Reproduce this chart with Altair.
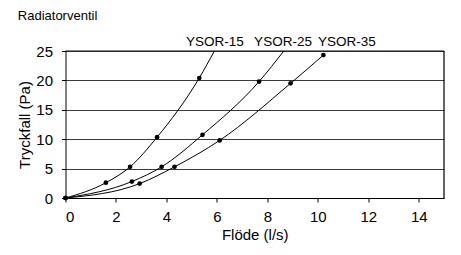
import altair as alt
import pandas as pd

series = ["YSOR-15", "YSOR-25", "YSOR-35"]

# measured points (markers)
pts_x = {
    "YSOR-15": [0.0, 1.6, 2.56, 3.63, 5.3],
    "YSOR-25": [0.0, 2.63, 3.81, 5.43, 7.67],
    "YSOR-35": [0.0, 2.94, 4.32, 6.11, 8.92, 10.22],
}
pts_y = {
    "YSOR-15": [0.0, 2.6, 5.3, 10.35, 20.4],
    "YSOR-25": [0.0, 2.8, 5.3, 10.75, 19.8],
    "YSOR-35": [0.0, 2.45, 5.3, 9.8, 19.5, 24.3],
}
# where the smoothed curve leaves the top of the plot
ext_x = {"YSOR-15": [5.9], "YSOR-25": [8.65], "YSOR-35": []}
ext_y = {"YSOR-15": [25.0], "YSOR-25": [25.0], "YSOR-35": []}

label_x = [5.92, 8.62, 11.15]
label_y = [25, 25, 25]

x_ticks = [0, 2, 4, 6, 8, 10, 12, 14]
y_ticks = [0, 5, 10, 15, 20, 25]
x_max = 15
y_max = 25

pt_rows, line_rows = [], []
for s in series:
    for i, (x, y) in enumerate(zip(pts_x[s], pts_y[s])):
        pt_rows.append({"s": s, "x": x, "y": y})
        line_rows.append({"s": s, "x": x, "y": y, "o": i})
    for j, (x, y) in enumerate(zip(ext_x[s], ext_y[s])):
        line_rows.append({"s": s, "x": x, "y": y, "o": 100 + j})
pts = pd.DataFrame(pt_rows)
lines = pd.DataFrame(line_rows)
labels = pd.DataFrame({"s": series, "x": label_x, "y": label_y})

FONT = "Liberation Sans"
xs = alt.Scale(domain=[0, x_max], nice=False, zero=True)
ys = alt.Scale(domain=[0, y_max], nice=False, zero=True)
xax = alt.Axis(values=x_ticks, title="Flöde (l/s)", grid=False, tickSize=4,
               labelFontSize=15, titleFontSize=15, labelPadding=7, titlePadding=3,
               labelFont=FONT, titleFont=FONT, titleFontWeight="normal",
               domainColor="#000", tickColor="#000", labelColor="#000", titleColor="#000")
yax = alt.Axis(values=y_ticks, title="Tryckfall (Pa)", grid=True, gridColor="#3a3a3a",
               tickSize=4, labelFontSize=15, titleFontSize=15, labelPadding=9,
               titlePadding=3, labelFont=FONT, titleFont=FONT, titleFontWeight="normal",
               labelOverlap=False,
               domainColor="#000", tickColor="#000", labelColor="#000", titleColor="#000")

X = alt.X("x:Q", scale=xs, axis=xax)
Y = alt.Y("y:Q", scale=ys, axis=yax)

line = alt.Chart(lines).mark_line(color="#000", strokeWidth=1, interpolate="monotone", clip=True).encode(
    x=X, y=Y, detail="s:N", order="o:Q",
)
points = alt.Chart(pts).mark_point(filled=True, color="#000", size=22, opacity=1, shape="circle").encode(
    x=X, y=Y
)
text = alt.Chart(labels).mark_text(font=FONT, fontSize=13.5, color="#000", baseline="alphabetic",
                                  align="center", dy=-5).encode(
    x=X, y=Y, text="s:N"
)
border = alt.Chart(pd.DataFrame({"x": [x_max], "y": [0], "y2": [y_max]})).mark_rule(
    color="#111", strokeWidth=1.3
).encode(x=X, y=Y, y2="y2:Q")
top = alt.Chart(pd.DataFrame({"x": [0], "x2": [x_max], "y": [y_max]})).mark_rule(
    color="#111", strokeWidth=1.2
).encode(x=X, x2="x2:Q", y=Y)

chart = alt.layer(line, points, text, border, top).properties(
    width=438, height=235,
    title=alt.Title("Radiatorventil", anchor="start", fontSize=13, font=FONT,
                    fontWeight="normal", color="#000", offset=12),
    autosize=alt.AutoSizeParams(type="fit", contains="padding"),
    padding={"left": 9.5, "top": 2, "right": 1, "bottom": 1},
).configure_view(stroke=None)

chart.save("out.html", embed_options={"renderer": "svg", "actions": False})
